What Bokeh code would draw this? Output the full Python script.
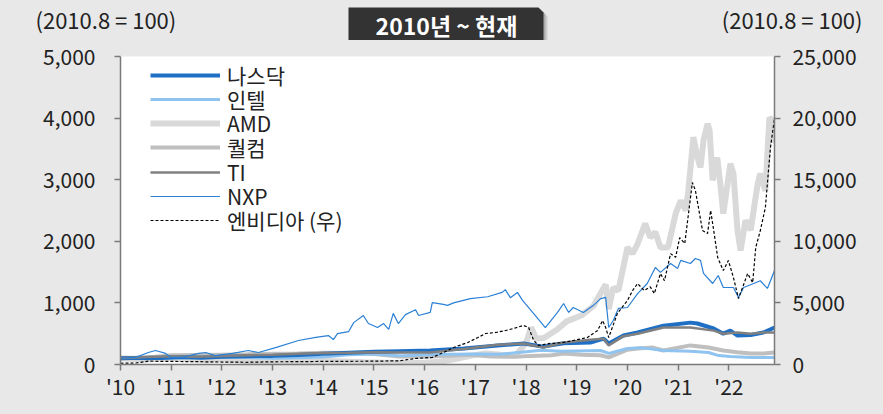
from bokeh.plotting import figure
from bokeh.layouts import column
from bokeh.models import (Range1d, LinearAxis, FixedTicker, NumeralTickFormatter,
                          Legend, LegendItem)
from bokeh.core.properties import value
from bokeh.embed import file_html
from bokeh.resources import INLINE

FONT = "Noto Sans CJK KR"
BG = "#e8e8e8"

# ---------------- data (index, 2010.8 = 100) ----------------
tick_years = [2010, 2011, 2012, 2013, 2014, 2015, 2016, 2017, 2018, 2019, 2020, 2021, 2022]
tick_labels = ["'10", "'11", "'12", "'13", "'14", "'15", "'16", "'17", "'18", "'19", "'20", "'21", "'22"]

nasdaq_x = [2010.0, 2010.4, 2010.8, 2011.2, 2011.6, 2012.0, 2012.5, 2013.0, 2013.5, 2014.0, 2014.5,
            2015.0, 2015.5, 2016.11, 2016.77, 2017.44, 2017.95, 2018.34, 2018.74, 2019.27, 2019.53,
            2019.63, 2019.92, 2020.2, 2020.71, 2021.24, 2021.38, 2021.7, 2021.89, 2022.03, 2022.17,
            2022.43, 2022.68, 2022.9]
nasdaq_y = [100, 110, 105, 120, 110, 125, 135, 140, 155, 175, 190, 205, 215, 227, 260, 310, 340, 290,
            345, 357, 420, 340, 470, 520, 630, 680, 665, 585, 500, 550, 470, 480, 520, 600]

intel_x = [2010.0, 2010.5, 2011.0, 2011.5, 2012.0, 2012.5, 2013.0, 2013.5, 2014.0, 2014.5, 2015.0,
           2015.5, 2016.0, 2016.5, 2017.0, 2017.5, 2017.9, 2018.3, 2018.7, 2019.0, 2019.47, 2019.63,
           2020.0, 2020.3, 2020.71, 2021.24, 2021.6, 2021.8, 2022.03, 2022.43, 2022.9]
intel_y = [100, 95, 105, 110, 120, 115, 100, 110, 120, 160, 170, 140, 160, 165, 170, 165, 200, 230,
           215, 220, 227, 180, 260, 270, 227, 215, 195, 145, 130, 115, 115]

amd_x = [2010.0, 2010.5, 2010.9, 2011.3, 2011.7, 2012.0, 2012.4, 2012.8, 2013.2, 2013.6, 2014.0,
         2014.4, 2014.8, 2015.2, 2015.6, 2016.0, 2016.3, 2016.6, 2016.9, 2017.2, 2017.5, 2017.8,
         2018.0, 2018.1, 2018.2, 2018.35, 2018.6, 2018.8, 2019.1, 2019.33, 2019.5, 2019.57, 2019.63,
         2019.72, 2019.82, 2020.0, 2020.1, 2020.2, 2020.35, 2020.45, 2020.55, 2020.65, 2020.8,
         2020.95, 2021.05, 2021.15, 2021.2, 2021.3, 2021.38, 2021.44, 2021.5, 2021.58, 2021.62,
         2021.68, 2021.77, 2021.83, 2021.89, 2022.03, 2022.09, 2022.17, 2022.23, 2022.33, 2022.43,
         2022.57, 2022.62, 2022.72, 2022.8, 2022.86, 2022.9]
amd_y = [100, 80, 105, 95, 70, 90, 60, 35, 40, 45, 55, 50, 35, 30, 25, 30, 45, 90, 140, 180, 160, 150,
         350, 600, 420, 430, 560, 700, 800, 950, 1200, 1300, 900, 1250, 1200, 1900, 1800, 1960, 2290,
         2060, 2150, 1900, 1900, 2450, 2660, 2500, 2820, 3690, 3360, 3200, 3640, 3910, 3800, 2990,
         3360, 2940, 2450, 3260, 3100, 2180, 1850, 2340, 2180, 2940, 3100, 2820, 4010, 3960, 3600]

qcom_x = [2010.0, 2010.5, 2011.0, 2011.5, 2012.0, 2012.5, 2013.0, 2013.5, 2014.0, 2014.5, 2015.0,
          2015.5, 2016.0, 2016.5, 2016.9, 2017.3, 2017.8, 2018.1, 2018.5, 2018.74, 2019.1, 2019.47,
          2019.63, 2020.0, 2020.2, 2020.5, 2020.71, 2021.24, 2021.6, 2021.89, 2022.17, 2022.43,
          2022.68, 2022.9]
qcom_y = [100, 110, 150, 155, 160, 165, 175, 180, 190, 185, 170, 130, 125, 140, 160, 130, 125, 140,
          150, 180, 160, 150, 115, 240, 260, 275, 227, 310, 275, 227, 200, 180, 180, 195]

ti_x = [2010.0, 2010.5, 2011.0, 2011.5, 2012.0, 2012.5, 2013.0, 2013.5, 2014.0, 2014.5, 2015.0,
        2015.5, 2016.11, 2016.77, 2017.44, 2017.95, 2018.34, 2018.74, 2019.27, 2019.53, 2019.63,
        2019.92, 2020.2, 2020.71, 2021.24, 2021.7, 2021.89, 2022.17, 2022.43, 2022.68, 2022.9]
ti_y = [100, 120, 135, 125, 140, 150, 160, 175, 185, 190, 200, 195, 195, 250, 320, 340, 275, 357,
        400, 420, 310, 460, 500, 600, 600, 550, 500, 520, 500, 520, 520]

nxp_x = [2010.0, 2010.3, 2010.55, 2010.69, 2010.89, 2010.99, 2011.22, 2011.54, 2011.68, 2011.87,
         2012.21, 2012.52, 2012.72, 2013.06, 2013.51, 2013.85, 2014.1, 2014.2, 2014.28, 2014.5,
         2014.6, 2014.79, 2014.89, 2015.07, 2015.19, 2015.29, 2015.38, 2015.48, 2015.62, 2015.82,
         2015.88, 2016.11, 2016.15, 2016.37, 2016.45, 2016.57, 2016.9, 2017.24, 2017.53, 2017.59,
         2017.69, 2017.83, 2017.93, 2018.15, 2018.38, 2018.62, 2018.74, 2018.84, 2018.93, 2019.13,
         2019.33, 2019.47, 2019.57, 2019.63, 2019.72, 2019.82, 2020.0, 2020.2, 2020.39, 2020.55,
         2020.65, 2020.85, 2020.99, 2021.05, 2021.24, 2021.34, 2021.44, 2021.5, 2021.68, 2021.79,
         2021.89, 2022.09, 2022.19, 2022.29, 2022.49, 2022.62, 2022.76, 2022.9]
nxp_y = [100, 115, 195, 227, 180, 115, 115, 180, 195, 145, 180, 227, 195, 275, 390, 440, 470, 405,
         500, 535, 680, 795, 665, 600, 665, 570, 830, 665, 810, 890, 795, 845, 1005, 975, 960, 1000,
         1070, 1100, 1170, 1215, 1085, 1170, 1040, 825, 600, 845, 990, 845, 925, 845, 960, 1070, 1090,
         600, 715, 910, 925, 1150, 1315, 1575, 1495, 1640, 1560, 1690, 1640, 1720, 1690, 1480, 1315,
         1445, 1250, 1250, 1090, 1250, 1315, 1360, 1235, 1525]

nvda_x = [2010.0, 2010.3, 2010.55, 2011.0, 2011.5, 2012.0, 2012.5, 2013.0, 2013.5, 2014.0, 2014.5,
          2015.0, 2015.5, 2015.82, 2016.15, 2016.37, 2016.57, 2016.85, 2017.05, 2017.2, 2017.4,
          2017.6, 2017.75, 2017.95, 2018.05, 2018.15, 2018.25, 2018.45, 2018.74, 2018.93, 2019.21,
          2019.41, 2019.51, 2019.57, 2019.63, 2019.8, 2020.0, 2020.1, 2020.2, 2020.33, 2020.45,
          2020.53, 2020.65, 2020.73, 2020.85, 2020.95, 2021.03, 2021.13, 2021.28, 2021.34, 2021.4,
          2021.48, 2021.58, 2021.64, 2021.7, 2021.78, 2021.89, 2021.99, 2022.09, 2022.19, 2022.27,
          2022.37, 2022.47, 2022.53, 2022.62, 2022.72, 2022.82, 2022.9]
nvda_y = [100, 120, 270, 250, 230, 200, 180, 220, 230, 250, 260, 270, 300, 490, 570, 975, 1380, 1785,
          2190, 2515, 2600, 2760, 2920, 3170, 3000, 1950, 1540, 1700, 1785, 1950, 2190, 2760, 3570,
          3000, 2190, 4140, 5200, 6000, 6570, 6000, 6300, 5760, 7380, 6800, 9000, 8700, 10300, 9820,
          14770, 14120, 12740, 10870, 10630, 12500, 10900, 8680, 7630, 8440, 7060, 5350, 6250, 7380,
          6650, 9500, 10870, 12740, 17610, 19960]

left_ticks = [0, 1000, 2000, 3000, 4000, 5000]
right_ticks = [0, 5000, 10000, 15000, 20000, 25000]

series_names = ["나스닥", "인텔", "AMD", "퀄컴", "TI", "NXP", "엔비디아 (우)"]
title_text = "2010년 ~ 현재"
unit_text = "(2010.8 = 100)"

W = 883
HEAD_H = 40
MAIN_H = 374
AX = "#7a7a7a"
TXT = "#222222"
FS = "21px"

# ---------------- header strip (title box + unit notes) ----------------
h = figure(width=W, height=HEAD_H, output_backend="svg", toolbar_location=None,
           x_range=Range1d(0, W), y_range=Range1d(HEAD_H, 0),
           x_axis_location=None, y_axis_location=None,
           min_border=0, min_border_left=0, min_border_right=0,
           min_border_top=0, min_border_bottom=0)
h.frame_align = False
h.background_fill_color = BG
h.border_fill_color = BG
h.outline_line_color = None
h.xgrid.visible = False
h.ygrid.visible = False

bx = [348, 538, 543, 543, 348]
by = [7, 7, 12, 40, 40]
h.patch([v + 4 for v in bx], [v + 4 for v in by], fill_color="#7a7a7a", fill_alpha=0.25, line_color=None)
h.patch([v + 2 for v in bx], [v + 2 for v in by], fill_color="#6a6a6a", fill_alpha=0.35, line_color=None)
h.patch(bx, by, fill_color="#333333", line_color=None)
h.text(x=[446], y=[24], text=[title_text], text_font=value(FONT), text_font_size="23px",
       text_font_style="bold", text_color="white", text_align="center", text_baseline="middle")
h.text(x=[35], y=[18], text=[unit_text], text_font=value(FONT), text_font_size="22px",
       text_color=TXT, text_align="left", text_baseline="middle")
h.text(x=[862], y=[18], text=[unit_text], text_font=value(FONT), text_font_size="22px",
       text_color=TXT, text_align="right", text_baseline="middle")

# ---------------- main chart ----------------
p = figure(width=W, height=MAIN_H, output_backend="svg", toolbar_location=None,
           x_range=Range1d(2010.0, 2022.9), y_range=Range1d(0, 5000),
           min_border_left=120, min_border_right=109, min_border_top=16, min_border_bottom=50)
p.frame_align = False
p.extra_y_ranges = {"right": Range1d(0, 25000)}
p.background_fill_color = "white"
p.border_fill_color = BG
p.outline_line_color = None
p.xgrid.visible = False
p.ygrid.visible = False


def style_axis(ax, standoff):
    ax.axis_line_color = AX
    ax.axis_line_width = 1.5
    ax.major_tick_line_color = AX
    ax.major_tick_line_width = 1.5
    ax.major_tick_out = 6
    ax.major_tick_in = 0
    ax.minor_tick_line_color = None
    ax.major_label_text_font = FONT
    ax.major_label_text_font_size = FS
    ax.major_label_text_color = TXT
    ax.major_label_standoff = standoff


p.xaxis.ticker = FixedTicker(ticks=tick_years)
p.xaxis.major_label_overrides = {y: l for y, l in zip(tick_years, tick_labels)}
style_axis(p.xaxis[0], 0)

p.yaxis.ticker = FixedTicker(ticks=left_ticks)
p.yaxis.formatter = NumeralTickFormatter(format="0,0")
style_axis(p.yaxis[0], 19)

ry = LinearAxis(y_range_name="right", ticker=FixedTicker(ticks=right_ticks),
                formatter=NumeralTickFormatter(format="0,0"))
style_axis(ry, 12)
p.add_layout(ry, "right")

r_amd = p.line(amd_x, amd_y, line_color="#d9d9d9", line_width=6)
r_qcom = p.line(qcom_x, qcom_y, line_color="#bfbfbf", line_width=4)
r_intel = p.line(intel_x, intel_y, line_color="#8fc4f0", line_width=3)
r_nasdaq = p.line(nasdaq_x, nasdaq_y, line_color="#1f6fc4", line_width=4)
r_ti = p.line(ti_x, ti_y, line_color="#808080", line_width=2.5)
r_nxp = p.line(nxp_x, nxp_y, line_color="#2b80d6", line_width=1.2)
r_nvda = p.line(nvda_x, nvda_y, line_color="black", line_width=1.2, line_dash="3 2",
                y_range_name="right")

# legend: one compact entry per row (rows ~24px apart, as in the original)
legend_renderers = [r_nasdaq, r_intel, r_amd, r_qcom, r_ti, r_nxp, r_nvda]
ROW_PITCH = 24.2
FIRST_ROW_FROM_TOP = 19      # centre of first row, px below frame top
ROW_HALF = 14.8              # half of a legend row's height at 21px
FRAME_H = MAIN_H - 16 - 50
for i, (name, rend) in enumerate(zip(series_names, legend_renderers)):
    centre = FIRST_ROW_FROM_TOP + i * ROW_PITCH
    lg = Legend(items=[LegendItem(label=name, renderers=[rend])],
                location=(30, FRAME_H - centre - ROW_HALF))
    lg.background_fill_alpha = 0
    lg.border_line_color = None
    lg.padding = 0
    lg.margin = 0
    lg.spacing = 0
    lg.glyph_width = 70
    lg.glyph_height = 20
    lg.label_height = 20
    lg.label_standoff = 7
    lg.label_text_font = FONT
    lg.label_text_font_size = FS
    lg.label_text_color = TXT
    p.add_layout(lg, "center")

layout = column(h, p, spacing=0)
layout.background = BG

html = file_html(layout, INLINE)
html = html.replace("<body>", '<body style="background:%s;">' % BG, 1)
open("out.html", "w").write(html)
